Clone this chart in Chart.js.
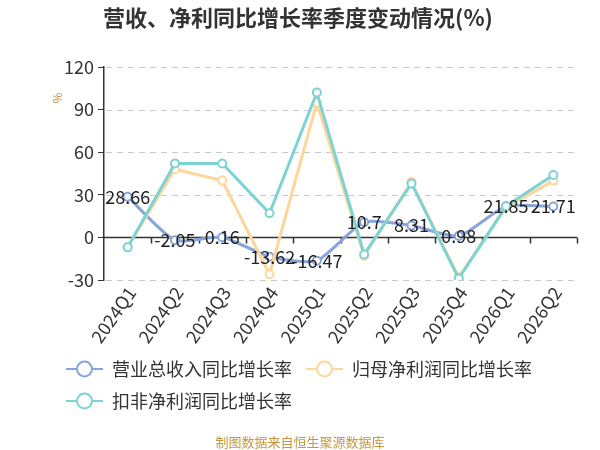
<!DOCTYPE html>
<html>
<head>
<meta charset="utf-8">
<script src="https://cdn.jsdelivr.net/npm/chart.js@4/dist/chart.umd.min.js"></script>
<style>
    html, body { margin: 0; padding: 0; background: #fff; }
    #wrap { width: 600px; height: 450px; }
</style>
</head>
<body>
<div id="wrap"><canvas id="chart" width="600" height="450"></canvas></div>
<script>
(function () {
    "use strict";

    // Data
    const categories = ["2024Q1", "2024Q2", "2024Q3", "2024Q4", "2025Q1", "2025Q2", "2025Q3", "2025Q4", "2026Q1", "2026Q2"];
    const revenueGrowth = [28.66, -2.05, 0.16, -13.62, -16.47, 10.7, 8.31, 0.98, 21.85, 21.71];
    const netProfitGrowth = [-7, 48, 40, -26, 95, -13, 39, -28, 21, 40];
    const deductedProfitGrowth = [-7, 52, 52, 17, 102, -12, 38, -29, 22, 44];
    const yTicks = [-30, 0, 30, 60, 90, 120];

    const FONT = "'Noto Sans CJK SC', 'Noto Sans', sans-serif";
    const blue = "#88a4dc";
    const yellow = "#fdd79a";
    const teal = "#7dd3d3";

    // legend icon: short line with an open circle
    function legendIcon(color) {
        const c = document.createElement("canvas");
        c.width = 37;
        c.height = 18;
        const g = c.getContext("2d");
        g.strokeStyle = color;
        g.lineWidth = 2;
        g.beginPath();
        g.moveTo(0, 9);
        g.lineTo(37, 9);
        g.stroke();
        g.fillStyle = "#fff";
        g.beginPath();
        g.arc(18.5, 9, 7.5, 0, Math.PI * 2);
        g.fill();
        g.stroke();
        return c;
    }

    // dashed grid, solid zero line with category ticks
    const gridLines = {
        id: "gridLines",
        beforeDatasetsDraw(chart) {
            const ctx = chart.ctx;
            const y = chart.scales.y;
            const left = chart.chartArea.left;
            const right = chart.chartArea.right;

            ctx.save();
            ctx.strokeStyle = "#c8c8c8";
            ctx.lineWidth = 1;
            ctx.setLineDash([6, 5]);
            yTicks.forEach((v) => {
                if (v === 0) return;
                const py = Math.round(y.getPixelForValue(v)) + 0.5;
                ctx.beginPath();
                ctx.moveTo(left + 2, py);
                ctx.lineTo(right, py);
                ctx.stroke();
            });
            ctx.restore();

            const y0 = Math.round(y.getPixelForValue(0)) + 0.5;
            const step = (right - left) / categories.length;
            ctx.save();
            ctx.strokeStyle = "#333";
            ctx.lineWidth = 1.5;
            ctx.beginPath();
            ctx.moveTo(left, y0);
            ctx.lineTo(right, y0);
            for (let i = 1; i <= categories.length; i++) {
                const px = Math.round(left + step * i) + 0.5;
                ctx.moveTo(px, y0);
                ctx.lineTo(px, y0 + 6);
            }
            ctx.stroke();
            ctx.restore();
        },
    };

    // rotated category labels (drawn here so they are not clipped to the axis box)
    const categoryLabels = {
        id: "categoryLabels",
        afterDraw(chart) {
            const ctx = chart.ctx;
            const x = chart.scales.x;
            const top = chart.chartArea.bottom + 9;
            ctx.save();
            ctx.fillStyle = "#333";
            ctx.font = "18px " + FONT;
            ctx.textAlign = "right";
            ctx.textBaseline = "middle";
            categories.forEach((label, i) => {
                ctx.save();
                ctx.translate(x.getPixelForValue(i) + 4, top);
                ctx.rotate(-55 * Math.PI / 180);
                ctx.fillText(label, 0, 0);
                ctx.restore();
            });
            ctx.restore();
        },
    };

    // value labels on the first series
    const valueLabels = {
        id: "valueLabels",
        afterDatasetsDraw(chart) {
            const ctx = chart.ctx;
            const meta = chart.getDatasetMeta(0);
            ctx.save();
            ctx.font = "18px " + FONT;
            ctx.fillStyle = "#222";
            ctx.textAlign = "center";
            ctx.textBaseline = "middle";
            meta.data.forEach((pt, i) => {
                ctx.fillText(String(revenueGrowth[i]), pt.x, pt.y);
            });
            ctx.restore();
        },
    };

    // title, "%" unit and source text
    const extras = {
        id: "extras",
        afterDraw(chart) {
            const ctx = chart.ctx;
            ctx.save();
            ctx.fillStyle = "#333";
            ctx.font = "bold 22px " + FONT;
            ctx.textAlign = "center";
            ctx.textBaseline = "middle";
            ctx.fillText("营收、净利同比增长率季度变动情况(%)", 298, 18);
            ctx.restore();

            ctx.save();
            ctx.fillStyle = "#d08c2c";
            ctx.font = "12px " + FONT;
            ctx.textAlign = "center";
            ctx.textBaseline = "middle";
            ctx.translate(57, 98);
            ctx.rotate(-Math.PI / 2);
            ctx.fillText("%", 0, 0);
            ctx.restore();

            ctx.save();
            ctx.fillStyle = "#c8963c";
            ctx.font = "13px " + FONT;
            ctx.textAlign = "center";
            ctx.textBaseline = "middle";
            ctx.fillText("制图数据来自恒生聚源数据库", 300, 442);
            ctx.restore();
        },
    };

    function series(label, data, color, order, tension) {
        return {
            label: label,
            data: data,
            borderColor: color,
            backgroundColor: color,
            borderWidth: 3,
            tension: tension,
            pointRadius: 4,
            pointBorderWidth: 2,
            pointBackgroundColor: "#fff",
            pointBorderColor: color,
            order: order,
        };
    }

    const ctx = document.getElementById("chart").getContext("2d");

    new Chart(ctx, {
        type: "line",
        data: {
            labels: categories,
            datasets: [
                series("营业总收入同比增长率", revenueGrowth, blue, 3, 0.2),
                series("归母净利润同比增长率", netProfitGrowth, yellow, 2, 0),
                series("扣非净利润同比增长率", deductedProfitGrowth, teal, 1, 0),
            ],
        },
        options: {
            responsive: false,
            animation: false,
            layout: {
                padding: { left: 52, right: 23, top: 67, bottom: 30 },
            },
            plugins: {
                legend: {
                    position: "bottom",
                    align: "start",
                    labels: {
                        usePointStyle: true,
                        pointStyleWidth: 37,
                        boxHeight: 18,
                        color: "#333",
                        font: { family: FONT, size: 18 },
                        padding: 14,
                        generateLabels(chart) {
                            return chart.data.datasets.map((ds, i) => ({
                                text: ds.label,
                                pointStyle: legendIcon(ds.borderColor),
                                fillStyle: "#fff",
                                strokeStyle: ds.borderColor,
                                lineWidth: 0,
                                hidden: false,
                                datasetIndex: i,
                                fontColor: "#333",
                            }));
                        },
                    },
                },
                tooltip: { enabled: false },
            },
            scales: {
                x: {
                    offset: true,
                    grid: { display: false },
                    border: { display: false },
                    ticks: { display: false },
                    afterFit(scale) {
                        scale.height = 66;
                    },
                },
                y: {
                    min: -30,
                    max: 120,
                    afterBuildTicks(scale) {
                        scale.ticks = yTicks.map((v) => ({ value: v }));
                    },
                    grid: {
                        drawOnChartArea: false,
                        tickLength: 6,
                        color: "#333",
                        drawTicks: true,
                    },
                    border: { display: true, color: "#333", width: 1.5 },
                    ticks: {
                        color: "#333",
                        font: { family: FONT, size: 18 },
                        padding: 4,
                    },
                    afterFit(scale) {
                        scale.width = 52;
                    },
                },
            },
        },
        plugins: [gridLines, valueLabels, categoryLabels, extras],
    });
})();
</script>
</body>
</html>
